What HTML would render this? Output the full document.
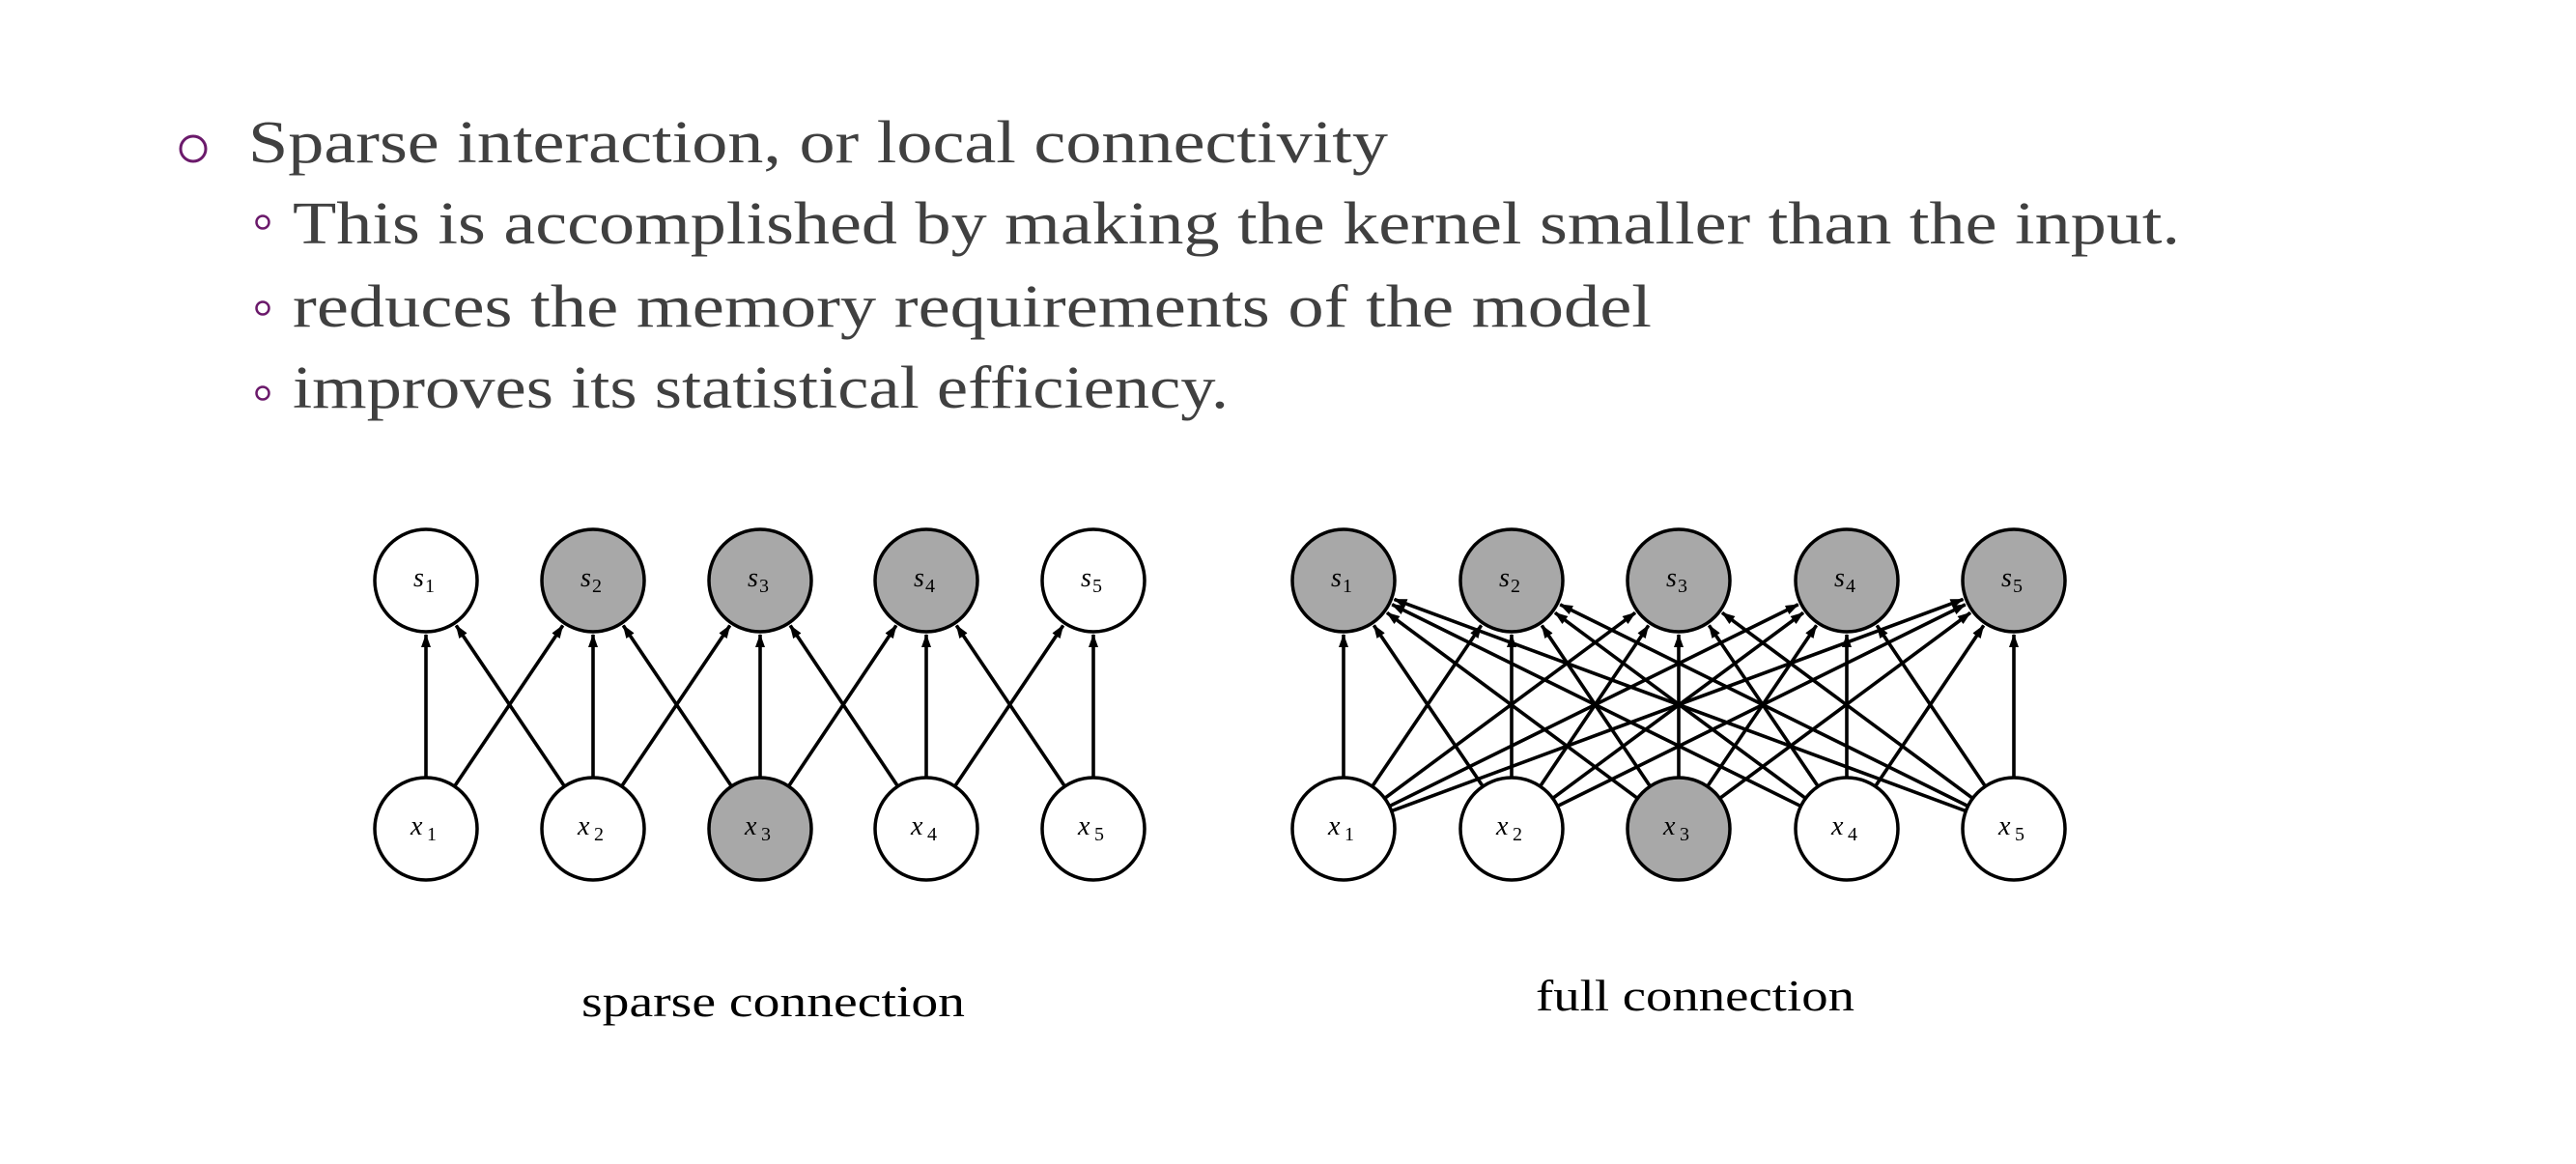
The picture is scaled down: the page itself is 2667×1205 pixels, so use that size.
<!DOCTYPE html>
<html><head><meta charset="utf-8"><style>
html,body{margin:0;padding:0;background:#fff;}
svg{display:block;}
</style></head><body>
<svg id="s" width="2667" height="1205" viewBox="0 0 2667 1205" xmlns="http://www.w3.org/2000/svg">
<defs>
<marker id="ah" markerWidth="14" markerHeight="10" refX="13" refY="5" orient="auto" markerUnits="userSpaceOnUse">
<path d="M0,0 L14,5 L0,10 z" fill="#000"/>
</marker>
</defs>
<circle cx="200" cy="154" r="13" fill="none" stroke="#6B1A6B" stroke-width="3"/>
<g font-family="'Liberation Serif',serif" fill="#404040" font-size="62">
<text x="257" y="168" textLength="1180" lengthAdjust="spacingAndGlyphs">Sparse interaction,  or local connectivity</text>
<text x="303" y="252" textLength="1954" lengthAdjust="spacingAndGlyphs">This is accomplished by making the kernel smaller than the input.</text>
<text x="303" y="338" textLength="1407" lengthAdjust="spacingAndGlyphs">reduces the memory requirements of the model</text>
<text x="303" y="422" textLength="969" lengthAdjust="spacingAndGlyphs">improves its statistical efficiency.</text>
</g>
<g fill="none" stroke="#6B1A6B" stroke-width="2.5">
<circle cx="272" cy="230" r="6.5"/><circle cx="272" cy="319" r="6.5"/><circle cx="272" cy="407" r="6.5"/>
</g>
<g font-family="'Liberation Serif',serif" fill="#000" font-size="46">
<text x="602" y="1052" textLength="397" lengthAdjust="spacingAndGlyphs">sparse connection</text>
<text x="1590" y="1046" textLength="330" lengthAdjust="spacingAndGlyphs">full connection</text>
</g>
<g id="g"></g>
</svg>
<script>
(function(){
var NS="http://www.w3.org/2000/svg",g=document.getElementById('g');
var R=53,TY=601,BY=858;
function el(t,a,txt){var e=document.createElementNS(NS,t);for(var k in a)e.setAttribute(k,a[k]);if(txt)e.textContent=txt;g.appendChild(e);return e;}
function diagram(xs,sGray,xGray,full){
  for(var i=0;i<5;i++)for(var j=0;j<5;j++){
    if(!full&&Math.abs(i-j)>1)continue;
    var x1=xs[i],y1=BY,x2=xs[j],y2=TY;
    var dx=x2-x1,dy=y2-y1,L=Math.sqrt(dx*dx+dy*dy),ux=dx/L,uy=dy/L;
    el('line',{x1:x1+ux*R,y1:y1+uy*R,x2:x2-ux*(R+3),y2:y2-uy*(R+3),stroke:'#000','stroke-width':3.6,'marker-end':'url(#ah)'});
  }
  for(var k=0;k<5;k++){
    el('circle',{cx:xs[k],cy:TY,r:R,fill:sGray[k]?'#a8a8a8':'#fff',stroke:'#000','stroke-width':3.5});
    el('circle',{cx:xs[k],cy:BY,r:R,fill:xGray[k]?'#a8a8a8':'#fff',stroke:'#000','stroke-width':3.5});
    el('text',{x:xs[k]-13,y:TY+6,'font-family':"'Liberation Serif',serif",'font-size':28,'font-style':'italic'},'s');
    el('text',{x:xs[k]-1,y:TY+12,'font-family':"'Liberation Serif',serif",'font-size':20},String(k+1));
    el('text',{x:xs[k]-16,y:BY+6,'font-family':"'Liberation Serif',serif",'font-size':28,'font-style':'italic'},'x');
    el('text',{x:xs[k]+1,y:BY+12,'font-family':"'Liberation Serif',serif",'font-size':20},String(k+1));
  }
}
diagram([441,614,787,959,1132],[0,1,1,1,0],[0,0,1,0,0],false);
diagram([1391,1565,1738,1912,2085],[1,1,1,1,1],[0,0,1,0,0],true);
})();
</script>
</body></html>
